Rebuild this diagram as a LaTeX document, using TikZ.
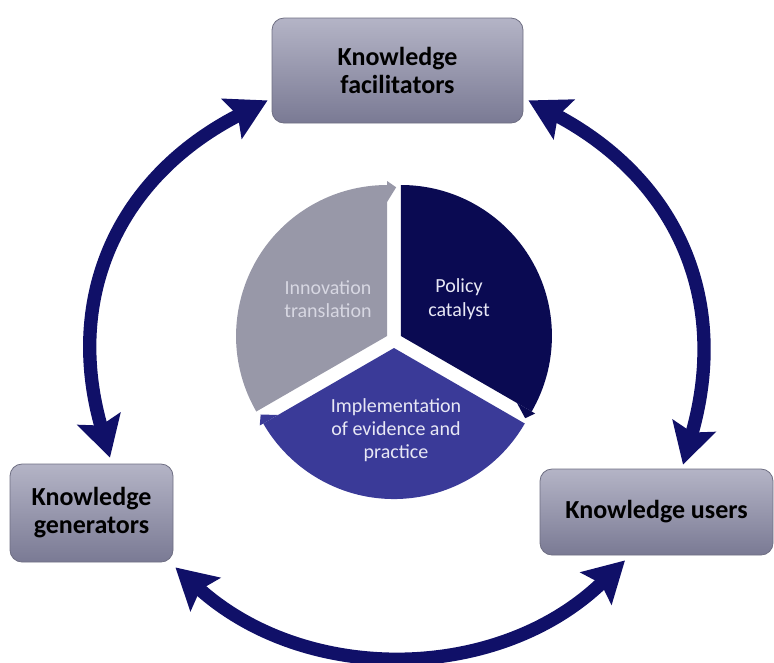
\documentclass[tikz,border=0pt]{standalone}
\usepackage{fontspec}
\setmainfont{Carlito}
\usetikzlibrary{arrows.meta}
\definecolor{arrowblue}{RGB}{16,16,104}
\definecolor{segGray}{RGB}{152,152,168}
\definecolor{segNavy}{RGB}{10,10,82}
\definecolor{segBlue}{RGB}{58,58,152}
\definecolor{boxTop}{RGB}{180,180,198}
\definecolor{boxBot}{RGB}{122,122,148}
\definecolor{boxLine}{RGB}{110,110,130}
\definecolor{txtGray}{RGB}{215,215,226}
\definecolor{txtLight}{RGB}{232,232,245}
\begin{document}
\begin{tikzpicture}[x=0.75pt,y=-0.75pt,
  kbox/.style={draw=boxLine, line width=0.6pt, rounded corners=9pt,
    top color=boxTop, bottom color=boxBot, align=center,
    font=\fontsize{19.5}{21}\selectfont\bfseries, text=black, inner sep=0pt},
  conn/.style={draw=arrowblue, line width=10pt,
    {Stealth[length=30pt,width=33pt,inset=5pt]}-{Stealth[length=30pt,width=33pt,inset=5pt]}},
  seglabel/.style={align=center, font=\fontsize{15}{17.5}\selectfont}]
\useasboundingbox (0,0) rectangle (774,662);

% central segmented cycle
\begin{scope}[shift={(394,340)}, x=0.75pt, y=0.75pt]
  \begin{scope}[shift={(150:8)}]
    \fill[segGray] (0,0) -- (210:151) arc[start angle=210, end angle=90, radius=151] -- cycle;
    \fill[segGray] (90:155) -- (86.5:149) -- (90:134) -- cycle;
  \end{scope}
  \begin{scope}[shift={(30:8)}]
    \fill[segNavy] (0,0) -- (90:151) arc[start angle=90, end angle=-30, radius=151] -- cycle;
    \fill[segNavy] (-30:155) -- (-33.5:149) -- (-30:134) -- cycle;
  \end{scope}
  \begin{scope}[shift={(270:8)}]
    \fill[segBlue] (0,0) -- (-30:151) arc[start angle=-30, end angle=-150, radius=151] -- cycle;
    \fill[segBlue] (210:155) -- (206.5:149) -- (210:134) -- cycle;
  \end{scope}
\end{scope}

\node[seglabel, text=txtGray] (innov) at (328,299) {Innovation\\translation};
\node[seglabel, text=txtLight] (policy) at (459,299) {Policy\\catalyst};
\node[seglabel, text=txtLight] (impl) at (396,430) {Implementation\\of evidence and\\practice};

% boxes
\node[kbox, minimum width=188.25pt, minimum height=78.75pt] (fac) at (397.5,70.5) {Knowledge\\facilitators};
\node[kbox, minimum width=122.25pt, minimum height=73.5pt] (gen) at (91.5,513) {Knowledge\\generators};
\node[kbox, minimum width=174.75pt, minimum height=64.5pt] (users) at (656.5,512) {Knowledge users};

% connectors
\draw[conn] ([shift={(18.5,-6)}]gen.north) to[out=106, in=207, looseness=1.1] ([shift={(-4,-23)}]fac.south west);
\draw[conn] ([shift={(5,-23)}]fac.south east) to[out=-28, in=74, looseness=1.1] ([shift={(26.5,-4)}]users.north);
\draw[conn] ([shift={(2,5)}]gen.south east) to[out=-42, in=224, looseness=1] ([shift={(-31.5,5)}]users.south);
\end{tikzpicture}
\end{document}
